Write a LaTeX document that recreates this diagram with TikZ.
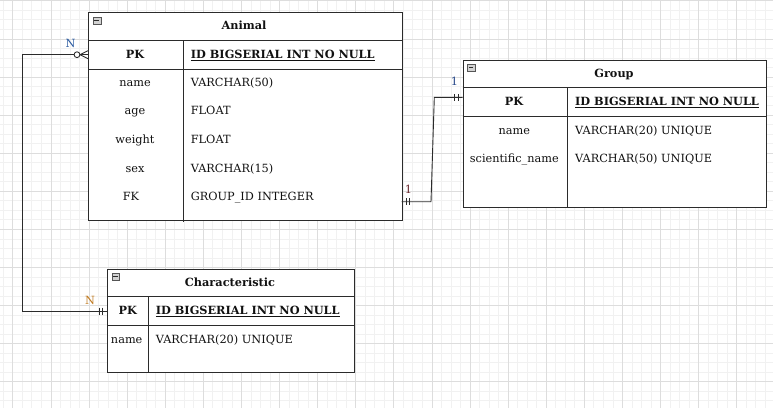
\documentclass[tikz,border=0pt]{standalone}
\usepackage{fontspec}
\setmainfont{DejaVu Serif}
\definecolor{gridminor}{HTML}{F1F1F1}
\definecolor{gridmajor}{HTML}{DDDDDD}
\definecolor{edge}{HTML}{2B2B2B}
\definecolor{txt}{HTML}{111111}
\definecolor{lblblue}{HTML}{2A5AA0}
\definecolor{lblorange}{HTML}{C07A20}
\definecolor{lblred}{HTML}{6A2A30}
\definecolor{lblnavy}{HTML}{2A4A8A}
\newcommand{\cellfont}{\fontsize{11.3}{13.5}\selectfont}
\tikzset{
  tablebox/.style={draw=edge, line width=0.9pt, fill=white, rectangle, inner sep=0pt, anchor=north west},
  sepline/.style={draw=edge, line width=0.9pt},
  celltxt/.style={text=txt, inner sep=0pt, text height=9pt, text depth=2pt, font=\cellfont},
  lefttxt/.style={celltxt, anchor=west},
  titletxt/.style={celltxt, font=\cellfont\bfseries},
  pktxt/.style={celltxt, font=\cellfont\bfseries},
  idtxt/.style={celltxt, anchor=west, font=\cellfont\bfseries},
  minusicon/.style={draw=edge!80, fill=gray!35, line width=0.5pt, rectangle, minimum width=7.6pt, minimum height=7.2pt, inner sep=0pt, anchor=north west},
  conn/.style={draw=edge, line width=0.9pt},
  bar/.style={draw=edge, line width=0.8pt},
  cardlbl/.style={inner sep=0pt, text height=9pt, text depth=2pt, font=\cellfont},
}
\begin{document}
\begin{tikzpicture}[x=1pt,y=-1pt]
\useasboundingbox (0,0) rectangle (773,408);
% grid
\foreach \i in {0,...,81} {
  \draw[gridminor, line width=0.6pt] (3.2+9.525*\i,0) -- (3.2+9.525*\i,408);
}
\foreach \j in {0,...,43} {
  \draw[gridminor, line width=0.6pt] (0,0.7+9.525*\j) -- (773,0.7+9.525*\j);
}
\foreach \i in {0,...,20} {
  \draw[gridmajor, line width=0.6pt] (12.7+38.1*\i,0) -- (12.7+38.1*\i,408);
}
\foreach \j in {0,...,10} {
  \draw[gridmajor, line width=0.6pt] (0,0.7+38.1*\j) -- (773,0.7+38.1*\j);
}

% ---------- Animal ----------
\node[tablebox, minimum width=313.4pt, minimum height=208.3pt] (animal) at (88.3,12) {};
\draw[sepline] (88.3,40.3) -- (401.7,40.3);
\draw[sepline] (88.3,69) -- (401.7,69);
\draw[sepline] (183.3,40.3) -- (183.3,222);
\node[minusicon] (animalicon) at (92.9,16.9) {};
\draw[edge, line width=0.8pt] (94.4,20.5) -- (99.0,20.5);
\node[titletxt] (animaltitle) at (244,25.7) {Animal};
\node[pktxt] (animalpk) at (135,54.7) {PK};
\node[idtxt] (animalid) at (190.7,54.7) {\underline{ID BIGSERIAL INT NO NULL}};
\node[celltxt] (an1) at (135,82.6) {name};
\node[lefttxt] (at1) at (190.7,82.6) {VARCHAR(50)};
\node[celltxt] (an2) at (135,111.3) {age};
\node[lefttxt] (at2) at (190.7,111.3) {FLOAT};
\node[celltxt] (an3) at (135,139.8) {weight};
\node[lefttxt] (at3) at (190.7,139.8) {FLOAT};
\node[celltxt] (an4) at (135,168.5) {sex};
\node[lefttxt] (at4) at (190.7,168.5) {VARCHAR(15)};
\node[celltxt] (an5) at (131,197) {FK};
\node[lefttxt] (at5) at (190.7,197) {GROUP\_ID INTEGER};

% ---------- Group ----------
\node[tablebox, minimum width=303.6pt, minimum height=147.3pt] (group) at (462.7,59.7) {};
\draw[sepline] (462.7,87.7) -- (766.3,87.7);
\draw[sepline] (462.7,116.3) -- (766.3,116.3);
\draw[sepline] (567,87.7) -- (567,207);
\node[minusicon] (groupicon) at (467.3,63.5) {};
\draw[edge, line width=0.8pt] (468.8,67.1) -- (473.4,67.1);
\node[titletxt] (grouptitle) at (614,73.7) {Group};
\node[pktxt] (grouppk) at (514,102) {PK};
\node[idtxt] (groupid) at (575,102) {\underline{ID BIGSERIAL INT NO NULL}};
\node[celltxt] (gn1) at (514.3,130.6) {name};
\node[lefttxt] (gt1) at (575,130.6) {VARCHAR(20) UNIQUE};
\node[celltxt] (gn2) at (514.3,159) {scientific\_name};
\node[lefttxt] (gt2) at (575,159) {VARCHAR(50) UNIQUE};

% ---------- Characteristic ----------
\node[tablebox, minimum width=246.7pt, minimum height=103.6pt] (charac) at (107.3,268.7) {};
\draw[sepline] (107.3,296.7) -- (354,296.7);
\draw[sepline] (107.3,325.3) -- (354,325.3);
\draw[sepline] (148.3,296.7) -- (148.3,372.3);
\node[minusicon] (characicon) at (111.6,272.7) {};
\draw[edge, line width=0.8pt] (113.1,276.3) -- (117.7,276.3);
\node[titletxt] (charactitle) at (230,282.8) {Characteristic};
\node[pktxt] (characpk) at (127.7,311) {PK};
\node[idtxt] (characid) at (155.7,311) {\underline{ID BIGSERIAL INT NO NULL}};
\node[celltxt] (cn1) at (126.7,339.8) {name};
\node[lefttxt] (ct1) at (155.7,339.8) {VARCHAR(20) UNIQUE};

% ---------- connector anchors ----------
\coordinate (aPK) at (88.3,54.7);
\coordinate (aFK) at (401.7,201.7);
\coordinate (gPK) at (462.7,97.3);
\coordinate (cPK) at (107.3,311);
\coordinate (bendA) at (22.7,54.7);
\coordinate (bendB) at (22.7,311);
\coordinate (bendC) at (431,201.7);
\coordinate (bendD) at (434.3,97.3);
\coordinate (circ) at (77,54.7);

% Animal -- Characteristic
\draw[conn] (circ) ++(-2.9,0) -- (bendA) -- (bendB) -- (cPK);
\draw[conn, fill=white] (circ) circle[radius=2.9pt];
\draw[conn] (79.9,54.7) -- (88.3,50.6);
\draw[conn] (79.9,54.7) -- (aPK);
\draw[conn] (79.9,54.7) -- (88.3,58.8);
\draw[bar] (99.3,307.5) -- (99.3,314.5);
\draw[bar] (102.7,307.5) -- (102.7,314.5);

% Animal -- Group
\draw[conn] (aFK) -- (bendC) -- (bendD) -- (gPK);
\draw[bar] (406,198.2) -- (406,205.2);
\draw[bar] (409.6,198.2) -- (409.6,205.2);
\draw[bar] (454.6,93.8) -- (454.6,100.8);
\draw[bar] (458.2,93.8) -- (458.2,100.8);

% cardinality labels
\node[cardlbl, text=lblblue] (lblN1) at (70.5,44) {N};
\node[cardlbl, text=lblorange] (lblN2) at (90,301) {N};
\node[cardlbl, text=lblred] (lbl1a) at (408.5,189.5) {1};
\node[cardlbl, text=lblnavy] (lbl1b) at (454.5,82) {1};
\end{tikzpicture}
\end{document}
